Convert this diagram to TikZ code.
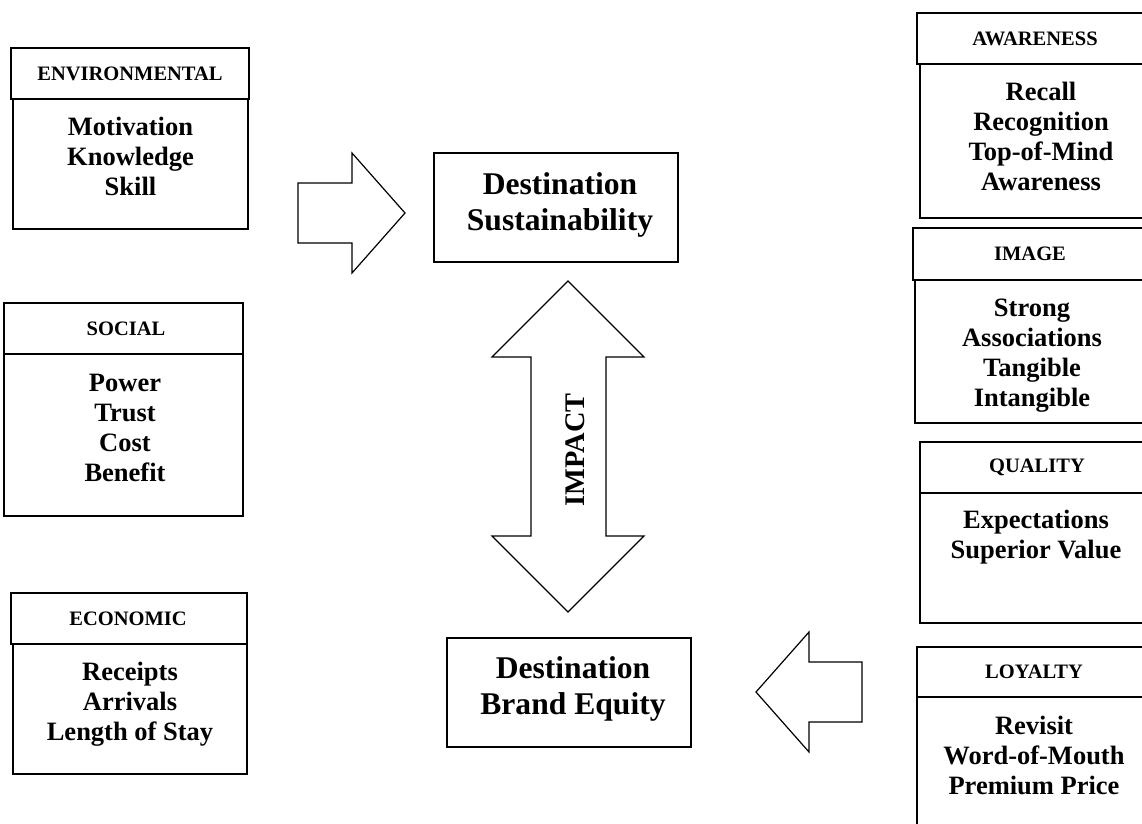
\documentclass[tikz,border=0pt]{standalone}
\usepackage{fontspec}
\setmainfont{Liberation Serif}
% type sizes used in the figure
\newcommand{\hdrfont}{\bfseries\fontsize{20.5}{24}\selectfont}
\newcommand{\itemfont}{\bfseries\fontsize{26.5}{30}\selectfont}
\newcommand{\destfont}{\bfseries\fontsize{31.6}{36}\selectfont}
\newcommand{\impactfont}{\bfseries\fontsize{28.4}{32}\selectfont}
% centred column of lines, baseline on the first line
\newcommand{\itemstack}[1]{\begin{tabular}[t]{@{}c@{}}#1\end{tabular}}
\begin{document}
\begin{tikzpicture}[x=1pt,y=-1pt,
  boxline/.style={draw=black, line width=1.8pt},
  heavyline/.style={draw=black, line width=2.6pt},
  arrowline/.style={draw=black, line width=1.2pt, line join=miter, fill=white},
  hdrtext/.style={font=\hdrfont, inner sep=0pt},
  itemtext/.style={font=\itemfont, inner sep=0pt, anchor=base},
  desttext/.style={font=\destfont, inner sep=0pt, anchor=base}]
\useasboundingbox (0,0) rectangle (1142,823);
\clip (0,0) rectangle (1142,823);

% ---- left column: environmental / social / economic ----
\draw[boxline] (13,99) rectangle (248,229);
\draw[boxline] (11,48) rectangle (249,99);
\node[hdrtext] (envhead) at (130,74) {ENVIRONMENTAL};
\node[itemtext] (envbody) at (130.5,135) {\itemstack{Motivation\\Knowledge\\Skill}};

\draw[boxline] (4,354) rectangle (243,516);
\draw[boxline] (4,303) rectangle (243,354);
\node[hdrtext] (sochead) at (126,328.5) {SOCIAL};
\node[itemtext] (socbody) at (125,391) {\itemstack{Power\\Trust\\Cost\\Benefit}};

\draw[boxline] (13,644) rectangle (247,774);
\draw[boxline] (11,593) rectangle (247,644);
\node[hdrtext] (ecohead) at (128,618.5) {ECONOMIC};
\node[itemtext] (ecobody) at (130,680) {\itemstack{Receipts\\Arrivals\\Length of Stay}};

% ---- right column: awareness / image / quality / loyalty ----
\draw[boxline] (920,64) rectangle (1170,218);
\draw[boxline] (917,13) rectangle (1170,64);
\node[hdrtext] (awahead) at (1035,38.5) {AWARENESS};
\node[itemtext] (awabody) at (1041,100) {\itemstack{Recall\\Recognition\\Top-of-Mind\\Awareness}};

\draw[boxline] (915,280) rectangle (1170,423);
\draw[boxline] (913,228) rectangle (1170,280);
\node[hdrtext] (imghead) at (1030,254) {IMAGE};
\node[itemtext] (imgbody) at (1032,316) {\itemstack{Strong\\Associations\\Tangible\\Intangible}};

\draw[boxline] (920,493) rectangle (1170,623);
\draw[boxline] (920,442) rectangle (1170,493);
\node[hdrtext] (qualhead) at (1037,467.5) {QUALITY};
\node[itemtext] (qualbody) at (1036,528) {\itemstack{Expectations\\Superior Value}};

\draw[boxline] (917,697) rectangle (1170,860);
\draw[heavyline] (917,647) rectangle (1170,697);
\node[hdrtext] (loyhead) at (1034,672) {LOYALTY};
\node[itemtext] (loybody) at (1034,734) {\itemstack{Revisit\\Word-of-Mouth\\Premium Price}};

% ---- centre: the two destination constructs ----
\draw[boxline] (434,153) rectangle (678,262);
\node[desttext] (sust) at (560,194) {\itemstack{Destination\\Sustainability}};
\draw[boxline] (447,638) rectangle (691,747);
\node[desttext] (equity) at (573,678) {\itemstack{Destination\\Brand Equity}};

% ---- block arrows ----
\draw[arrowline] (298,183) -- (352,183) -- (352,153) -- (405,213)
  -- (352,273) -- (352,243) -- (298,243) -- cycle;
\draw[arrowline] (568,281) -- (644,357) -- (606,357) -- (606,536)
  -- (644,536) -- (568,612) -- (492,536) -- (531,536) -- (531,357)
  -- (492,357) -- cycle;
\node[font=\impactfont, inner sep=0pt, rotate=90] (impact) at (575,450) {IMPACT};
\draw[arrowline] (756,692) -- (809,632) -- (809,662) -- (862,662)
  -- (862,722) -- (809,722) -- (809,752) -- cycle;
\end{tikzpicture}
\end{document}
